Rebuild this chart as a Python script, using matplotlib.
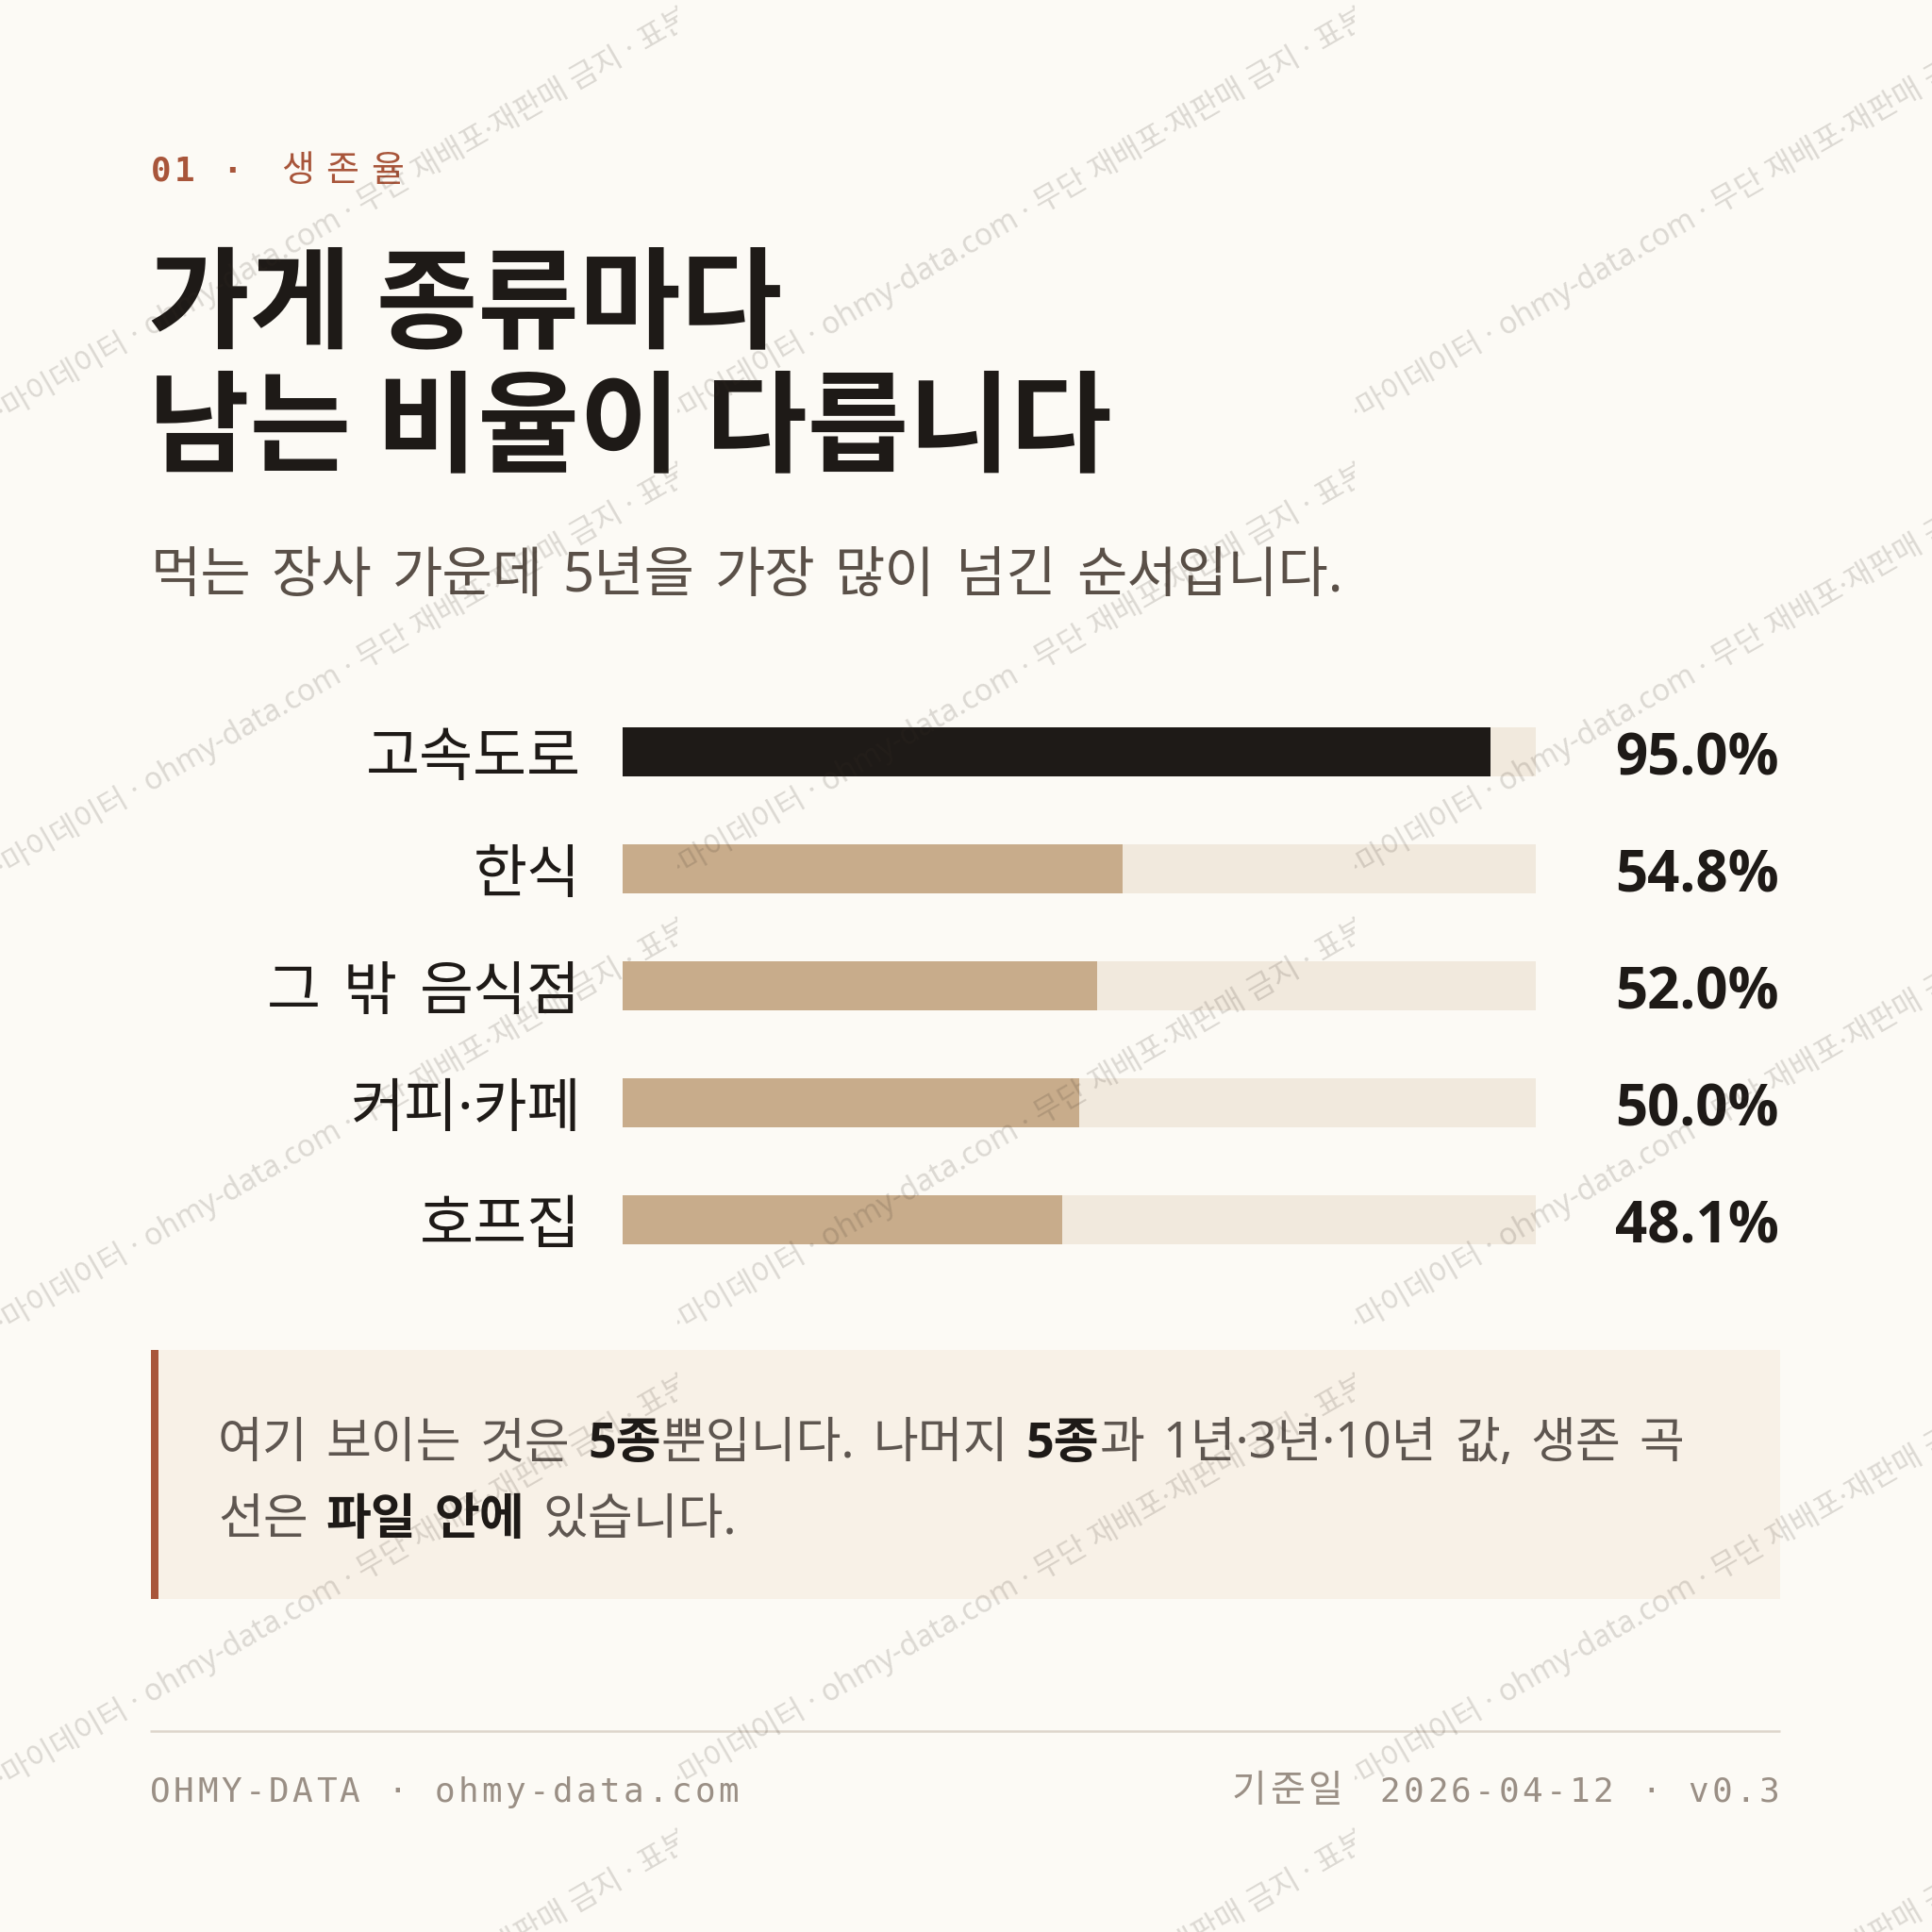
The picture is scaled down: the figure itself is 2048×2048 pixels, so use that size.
import unicodedata

import matplotlib
matplotlib.use("Agg")
import matplotlib.pyplot as plt
import matplotlib.transforms as mtransforms
from matplotlib.font_manager import FontProperties
from matplotlib.patches import Rectangle

# ---- data -------------------------------------------------------------
categories = ["고속도로", "한식", "그 밖 음식점", "커피·카페", "호프집"]
survival_5y = [95.0, 54.8, 52.0, 50.0, 48.1]
highlight = "고속도로"

kicker_num = "01 ·"
kicker_word = "생존율"
title_lines = ["가게 종류마다", "남는 비율이 다릅니다"]
subtitle = "먹는 장사 가운데 5년을 가장 많이 넘긴 순서입니다."
note_lines = [
    [("여기 보이는 것은 ", False), ("5종", True), ("뿐입니다. 나머지 ", False),
     ("5종", True), ("과 1년·3년·10년 값, 생존 곡", False)],
    [("선은 ", False), ("파일 안에", True), (" 있습니다.", False)],
]
footer_left = "OHMY-DATA · ohmy-data.com"
footer_right_kr = "기준일"
footer_right = "2026-04-12 · v0.3"
watermark = "·마이데이터 · ohmy-data.com · 무단 재배포·재판매 금지 · 표본 외 이용 금지"

# ---- style ------------------------------------------------------------
BG = "#FCFAF5"
INK = "#1E1A17"
TAN = "#C8AC8B"
TRACK = "#F1E9DD"
RUST = "#A8553A"
SUB = "#5A5048"
NOTE_BG = "#F8F1E7"
NOTE_TXT = "#5E5650"
FOOT = "#9A8F85"
RULE = "#DDD5CB"

KR = ["Noto Sans", "Noto Sans CJK KR", "DejaVu Sans"]
KR_BOLD = ["Open Sans", "Noto Sans CJK KR", "DejaVu Sans"]
KR_TITLE = ["Noto Sans CJK KR", "DejaVu Sans"]
MONO = ["DejaVu Sans Mono", "Noto Sans CJK KR"]
LATIN = ["Open Sans", "Noto Sans", "DejaVu Sans"]

plt.rcParams["font.family"] = KR

W = H = 2048
DPI = 200
fig = plt.figure(figsize=(W / DPI, H / DPI), dpi=DPI, facecolor=BG)


def px(v):
    # pixel size -> points
    return v * 72 / DPI


# full-page overlay in pixel coordinates (y grows downward)
ov = fig.add_axes([0, 0, 1, 1], zorder=3)
ov.set_xlim(0, W)
ov.set_ylim(H, 0)
ov.axis("off")
ov.patch.set_alpha(0)

renderer = fig.canvas.get_renderer()


def advance(s, fp):
    a = ov.text(0, 0, s + "|", fontproperties=fp)
    b = ov.text(0, 0, "|", fontproperties=fp)
    w = a.get_window_extent(renderer).width - b.get_window_extent(renderer).width
    a.remove()
    b.remove()
    return w


def words(x, y, pieces, space, z=3, draw=True):
    # pieces: (text, FontProperties, colour); spaces get a fixed width
    for s, fp, col in pieces:
        for j, part in enumerate(s.split(" ")):
            if j > 0:
                x += space
            if part:
                if draw:
                    ov.text(x, y, part, fontproperties=fp, color=col,
                            va="baseline", ha="left", zorder=z)
                x += advance(part, fp)
    return x


def is_wide(ch):
    return unicodedata.east_asian_width(ch) in ("W", "F")


def spaced(x, y, text, size, color, narrow, wide, weight="normal",
           right=False, wide_size=None):
    steps = [wide if is_wide(c) else narrow for c in text]
    if right:
        x = x - sum(steps[:-1]) - size * 0.6
    for c, st in zip(text, steps):
        s = wide_size if (wide_size and is_wide(c)) else size
        ov.text(x, y, c, family=MONO, fontsize=px(s), color=color,
                weight=weight, va="baseline", ha="left")
        x += st


# ---- kicker / title / subtitle ---------------------------------------
spaced(160, 192, kicker_num, 36, RUST, 25, 47, weight="bold")
spaced(298, 192, kicker_word, 36, RUST, 25, 47.5, wide_size=38)

for i, line in enumerate(title_lines):
    ov.text(157, 359 + 131 * i, line, fontsize=px(117), weight="bold",
            color=INK, va="baseline", ha="left", family=KR_TITLE)

fp_sub = FontProperties(family=KR, size=px(58))
words(160, 627, [(subtitle, fp_sub, SUB)], 21)

# ---- bars -------------------------------------------------------------
left, right = 660, 1628
row_h = 124
top = 797 - row_h / 2
ax = fig.add_axes([left / W, 1 - (top + row_h * len(categories)) / H,
                   (right - left) / W, row_h * len(categories) / H], zorder=2)
ax.set_xlim(0, 100)
ax.set_ylim(len(categories) - 0.5, -0.5)
ax.axis("off")
ax.patch.set_alpha(0)

ys = list(range(len(categories)))
bar_h = 52 / row_h
ax.barh(ys, [100] * len(ys), height=bar_h, color=TRACK, linewidth=0)
ax.barh(ys, survival_5y, height=bar_h, linewidth=0,
        color=[INK if c == highlight else TAN for c in categories])

blend = mtransforms.blended_transform_factory(ax.transAxes, ax.transData)
val_x = (1886 - left) / (right - left)
fp_lab = FontProperties(family=KR, size=px(62))
for y, cat, v in zip(ys, categories, survival_5y):
    # category label, right-aligned next to the track
    base = H - ax.transData.transform((0, y + 0.2))[1]
    wlab = words(0, base, [(cat, fp_lab, INK)], 24, draw=False)
    words(616 - wlab, base, [(cat, fp_lab, INK)], 24)
    ax.text(val_x, y + 0.2, f"{v:.1f}%", transform=blend, ha="right",
            va="baseline", fontsize=px(60), weight="bold", color=INK,
            family=LATIN)

# ---- note box ---------------------------------------------------------
ov.add_patch(Rectangle((160, 1431), 1887 - 160, 1695 - 1431,
                       facecolor=NOTE_BG, edgecolor="none", zorder=1))
ov.add_patch(Rectangle((160, 1431), 8, 1695 - 1431,
                       facecolor=RUST, edgecolor="none", zorder=2))

fp_n = FontProperties(family=KR, size=px(52))
fp_b = FontProperties(family=KR_BOLD, size=px(52), weight="bold")
for i, pieces in enumerate(note_lines):
    runs = [(s, fp_b if bold else fp_n, INK if bold else NOTE_TXT)
            for s, bold in pieces]
    words(231, 1545 + 81 * i, runs, 19)

# ---- footer -----------------------------------------------------------
ov.plot([159, 1887], [1835, 1835], color=RULE, lw=px(2.5), solid_capstyle="butt")
spaced(159, 1910, footer_left, 36, FOOT, 25.1, 41)
spaced(1306, 1910, footer_right_kr, 36, FOOT, 25.1, 40, wide_size=40)
spaced(1886, 1910, footer_right, 36, FOOT, 25.1, 41, right=True)

# ---- watermark tiles --------------------------------------------------
tile_w, tile_h = 718, 483
ty = 0
while ty < H:
    tx = 0
    while tx < W:
        (x0, y0), (x1, y1) = ov.transData.transform(
            [[tx, ty], [tx + tile_w, ty + tile_h]])
        box = mtransforms.Bbox.from_extents(min(x0, x1), min(y0, y1),
                                            max(x0, x1), max(y0, y1))
        t = ov.text(tx + 3, ty + 447, watermark, rotation=30,
                    rotation_mode="anchor", ha="left", va="baseline",
                    fontsize=px(32), color="#3C3228", alpha=0.17, zorder=10)
        t.set_clip_box(box)
        t.set_clip_on(True)
        tx += tile_w
    ty += tile_h

fig.savefig("out.png", dpi=DPI, facecolor=BG)
